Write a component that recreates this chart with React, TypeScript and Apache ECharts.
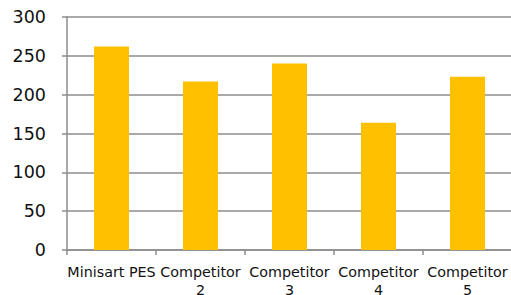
import React, { useEffect, useRef } from "react";
import * as echarts from "echarts";

const categories = ["Minisart PES", "Competitor\n2", "Competitor\n3", "Competitor\n4", "Competitor\n5"];
const values = [262, 217, 240, 164, 223];
const yMin = 0;
const yMax = 300;
const yInterval = 50;

export default function App() {
  const ref = useRef<HTMLDivElement>(null);
  useEffect(() => {
    if (!ref.current) return;
    const chart = echarts.init(ref.current, null, { renderer: "svg" });
    chart.setOption({
      animation: false,
      grid: { left: 67, right: -1, top: 17, bottom: 45, containLabel: false, outerBoundsMode: "none" },
      xAxis: {
        type: "category",
        data: categories,
        axisLine: { show: true, lineStyle: { color: "#8c8c8c", width: 1.5 } },
        axisTick: { show: true, length: 5, lineStyle: { color: "#8c8c8c", width: 1.5 } },
        axisLabel: {
          color: "#111",
          fontFamily: "DejaVu Sans",
          fontSize: 14.3,
          lineHeight: 18,
          margin: 13,
          interval: 0,
        },
      },
      yAxis: {
        type: "value",
        min: yMin,
        max: yMax,
        interval: yInterval,
        axisLine: { show: true, lineStyle: { color: "#8c8c8c", width: 1.5 } },
        axisTick: { show: true, length: 5, lineStyle: { color: "#8c8c8c", width: 1.5 } },
        splitLine: { show: true, lineStyle: { color: "#8c8c8c", width: 1.5 } },
        axisLabel: {
          color: "#111",
          fontFamily: "DejaVu Sans",
          fontSize: 17.5,
          margin: 21,
        },
      },
      series: [
        {
          type: "bar",
          data: values,
          barWidth: 35,
          itemStyle: { color: "#FFC000" },
        },
      ],
    });
    return () => chart.dispose();
  }, []);
  return <div ref={ref} style={{ width: 511, height: 295, position: "absolute", left: 0, top: 0 }} />;
}
